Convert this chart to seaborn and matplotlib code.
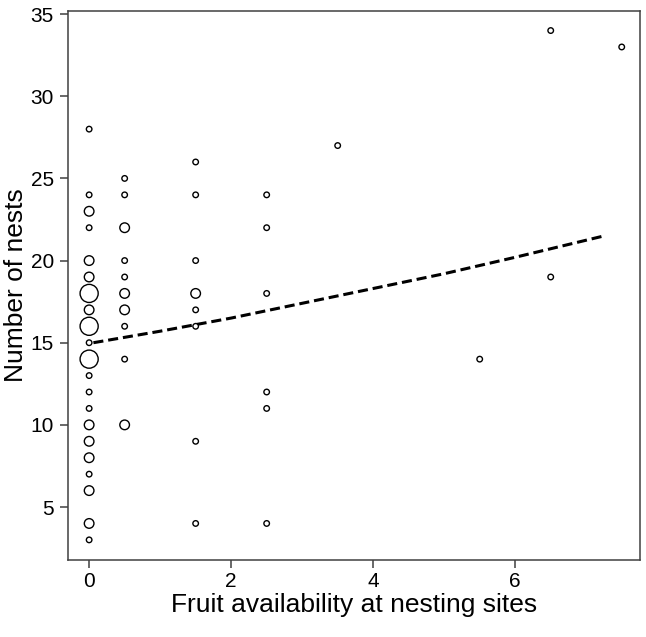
import numpy as np
import pandas as pd
import seaborn as sns
from matplotlib import pyplot as plt

# Punkte: Fruchtangebot (x), Nester (y), Anzahl überlagerter Punkte (n)
fruit = [0]*21 + [0.5]*10 + [1.5]*8 + [2.5]*6 + [3.5, 5.5, 6.5, 6.5, 7.5]
nests = [28, 24, 23, 22, 20, 19, 18, 17, 16, 15, 14, 13, 12, 11, 10, 9, 8, 7, 6, 4, 3,
         25, 24, 22, 20, 19, 18, 17, 16, 14, 10,
         26, 24, 20, 18, 17, 16, 9, 4,
         24, 22, 18, 12, 11, 4,
         27, 14, 34, 19, 33]
count = [1, 1, 2, 1, 2, 2, 3, 2, 3, 1, 3, 1, 1, 1, 2, 2, 2, 1, 2, 2, 1,
         1, 1, 2, 1, 1, 2, 2, 1, 1, 2,
         1, 1, 1, 2, 1, 1, 1, 1,
         1, 1, 1, 1, 1, 1,
         1, 1, 1, 1, 1]

# Regressionslinie
fit_x = [0.06, 1, 2, 3, 4, 5, 6, 7.25]
fit_y = [15.0, 15.7, 16.5, 17.4, 18.3, 19.2, 20.2, 21.5]

df = pd.DataFrame({'fruit': fruit, 'nests': nests, 'n': count})
fit = pd.DataFrame({'x': fit_x, 'y': fit_y})

sns.set_style('white')
plt.rcParams['font.family'] = ['Liberation Sans', 'DejaVu Sans']
plt.rcParams['text.color'] = 'black'
plt.rcParams['axes.labelcolor'] = 'black'
plt.rcParams['xtick.labelcolor'] = 'black'
plt.rcParams['ytick.labelcolor'] = 'black'

fig = plt.figure(figsize=(6.46, 6.37), dpi=100)
ax = fig.add_axes([0.105, 0.121, 0.886, 0.862])

sns.scatterplot(data=df, x='fruit', y='nests', size='n',
                sizes={1: 16, 2: 48, 3: 170}, marker='o',
                facecolor='white', edgecolor='black', linewidth=1.0,
                legend=False, ax=ax, zorder=3)

sns.lineplot(data=fit, x='x', y='y', color='black', linewidth=2.2, ax=ax)
ax.lines[-1].set_dashes([3.3, 1.6])

ax.set_xlim(-0.3, 7.76)
ax.set_ylim(1.78, 35.2)
ax.set_xticks([0, 2, 4, 6])
ax.set_yticks([5, 10, 15, 20, 25, 30, 35])

for sp in ax.spines.values():
    sp.set_color('#404040')
    sp.set_linewidth(1.1)

ax.tick_params(axis='both', which='major', direction='out', length=6, width=1.1,
               color='#404040', labelcolor='black', labelsize=15, pad=4,
               left=True, bottom=True)
ax.tick_params(axis='x', pad=3)
ax.set_xlabel('Fruit availability at nesting sites', fontsize=19, labelpad=1, color='black')
ax.set_ylabel('Number of nests', fontsize=19, labelpad=2, color='black')

fig.savefig('out.png', dpi=100)
